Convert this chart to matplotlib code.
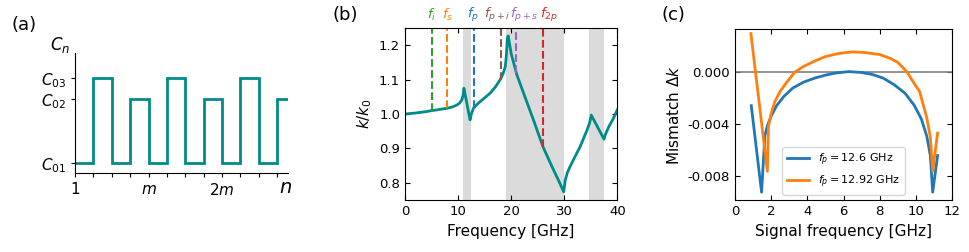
import numpy as np
import matplotlib
matplotlib.use("Agg")
from matplotlib import pyplot as plt

# ---- panel (a): periodic capacitance profile ----
cell_levels = [0.5, 4.75, 0.5, 3.7, 0.5, 4.75, 0.5, 3.7, 0.5, 4.75, 0.5, 3.7]
cell_ticks = [0, 4, 8]
cell_ticklabels = ["1", "$m$", "$2m$"]
cap_ticks = [0.5, 3.7, 4.75]
cap_ticklabels = ["$C_{01}$", "$C_{02}$", "$C_{03}$"]

# ---- panel (b): dispersion k/k0 ----
freq = [0, 2, 4, 5, 6, 8, 9, 9.75, 10.3, 10.7, 10.95, 11.1,
        12.25, 12.5, 12.9, 13.5, 14.15, 15, 16, 17, 17.9, 18.5, 18.9, 19.1, 19.3,
        19.45, 20.0, 21.1, 22.6, 24.2, 26.0, 27.7, 29.0, 29.9,
        30.05, 30.2, 30.6, 31.1, 32.0, 33.0, 34.3, 34.8, 35.1,
        36.3, 37.5, 37.8, 38.4, 39.2, 40]
k_ratio = [1.0, 1.003, 1.007, 1.010, 1.012, 1.017, 1.021, 1.026, 1.032, 1.041, 1.055, 1.075,
           0.983, 1.000, 1.017, 1.027, 1.036, 1.047, 1.060, 1.078, 1.099, 1.118, 1.138, 1.170, 1.222,
           1.227, 1.176, 1.113, 1.050, 0.983, 0.905, 0.847, 0.805, 0.774,
           0.790, 0.808, 0.830, 0.847, 0.875, 0.905, 0.953, 0.975, 0.997,
           0.962, 0.927, 0.942, 0.963, 0.985, 1.012]
gap_bands = [(11.0, 12.35), (19.1, 30.0), (34.75, 37.55)]
mode_freqs = [5, 8, 13, 18, 21, 26]
mode_k = [1.010, 1.017, 1.017, 1.099, 1.118, 0.905]
mode_labels = ["$f_i$", "$f_s$", "$f_p$", "$f_{p+i}$", "$f_{p+s}$", "$f_{2p}$"]
mode_label_x = [5, 8, 12.8, 17.3, 22.5, 27.2]
mode_colors = ["tab:green", "tab:orange", "tab:blue", "tab:brown", "tab:purple", "tab:red"]

# ---- panel (c): phase mismatch ----
fs_a = [0.9, 1.47, 1.65, 1.8, 2.0, 2.3, 2.7, 3.2, 3.8, 4.4, 5.0, 5.6, 6.3, 7.0,
        7.6, 8.2, 8.8, 9.4, 9.9, 10.3, 10.6, 10.8, 10.93, 11.2]
dk_a = [-2.6, -9.2, -4.9, -4.1, -3.4, -2.6, -1.9, -1.25, -0.8, -0.5, -0.27, -0.1, 0.0, -0.07,
        -0.22, -0.5, -1.0, -1.65, -2.55, -3.6, -4.9, -6.4, -9.2, -6.4]
fs_b = [0.88, 1.79, 1.85, 2.0, 2.2, 2.5, 2.9, 3.3, 3.8, 4.4, 5.0, 5.8, 6.5, 7.2,
        8.0, 8.6, 9.0, 9.5, 9.9, 10.2, 10.6, 10.8, 10.93, 11.2]
dk_b = [2.9, -7.6, -4.2, -3.2, -2.3, -1.5, -0.75, -0.05, 0.4, 0.8, 1.15, 1.4, 1.5, 1.45,
        1.3, 1.0, 0.7, 0.0, -0.9, -1.5, -3.5, -5.0, -7.6, -4.7]
pump_labels = ["$f_p = 12.6$ GHz", "$f_p = 12.92$ GHz"]

LABEL_FS = 11
TICK_FS = 9.5
TEAL = "darkcyan"

fig = plt.figure(figsize=(9.69, 2.52), dpi=100)

# (a)
ax_a = fig.add_axes([0.0774, 0.3135, 0.22, 0.476])
edges = np.arange(len(cell_levels) + 1)
ax_a.stairs(cell_levels, edges, color=TEAL, lw=2, baseline=None)
ax_a.set_xlim(0, 11.6)
ax_a.set_ylim(0, 6)
ax_a.spines["top"].set_visible(False)
ax_a.spines["right"].set_visible(False)
ax_a.set_xticks(np.arange(0, 12))
ax_a.set_xticklabels([cell_ticklabels[cell_ticks.index(t)] if t in cell_ticks else ""
                      for t in range(12)], fontsize=LABEL_FS)
ax_a.set_yticks(cap_ticks)
ax_a.set_yticklabels(cap_ticklabels, fontsize=LABEL_FS)
ax_a.tick_params(direction="out", length=3)
ax_a.text(-0.07, 1.07, "$C_n$", transform=ax_a.transAxes, ha="center", va="center",
          fontsize=LABEL_FS + 1)
ax_a.text(0.986, -0.12, "$n$", transform=ax_a.transAxes, ha="center", va="center",
          fontsize=LABEL_FS + 3)

# (b)
ax_b = fig.add_axes([0.418, 0.206, 0.219, 0.683])
for lo, hi in gap_bands:
    ax_b.axvspan(lo, hi, color="0.86", lw=0)
ax_b.plot(freq, k_ratio, color=TEAL, lw=2)
for f, k, lx, lab, c in zip(mode_freqs, mode_k, mode_label_x, mode_labels, mode_colors):
    ax_b.plot([f, f], [k, 1.25], ls="--", color=c, lw=1.5)
    ax_b.text(lx, 1.076, lab, color=c, transform=ax_b.get_xaxis_transform(),
              ha="center", va="center", fontsize=9.5)
ax_b.set_xlim(0, 40)
ax_b.set_ylim(0.75, 1.25)
ax_b.set_xticks([0, 10, 20, 30, 40])
ax_b.set_yticks([0.8, 0.9, 1.0, 1.1, 1.2])
ax_b.tick_params(direction="in", top=True, right=True, labelsize=TICK_FS)
ax_b.set_xlabel("Frequency [GHz]", fontsize=LABEL_FS)
ax_b.set_ylabel("$k/k_0$", fontsize=LABEL_FS)

# (c)
ax_c = fig.add_axes([0.7585, 0.206, 0.224, 0.679])
ax_c.axhline(0, color="gray", lw=1.2)
ax_c.plot(fs_a, np.array(dk_a) * 1e-3, color="tab:blue", lw=2, label=pump_labels[0])
ax_c.plot(fs_b, np.array(dk_b) * 1e-3, color="tab:orange", lw=2, label=pump_labels[1])
ax_c.set_xlim(0, 12)
ax_c.set_ylim(-0.0098, 0.00325)
ax_c.set_xticks(np.arange(0, 13, 2))
ax_c.set_yticks([-0.008, -0.004, 0.0])
ax_c.yaxis.set_major_formatter(matplotlib.ticker.FormatStrFormatter("%.3f"))
ax_c.tick_params(direction="in", top=True, right=True, labelsize=TICK_FS)
ax_c.set_xlabel("Signal frequency [GHz]", fontsize=LABEL_FS)
ax_c.set_ylabel("Mismatch $\\Delta k$", fontsize=LABEL_FS)
ax_c.legend(loc="lower center", fontsize=8)

fig.text(24 / 969, 1 - 25 / 252, "(a)", ha="center", va="center", fontsize=13)
fig.text(345 / 969, 1 - 15 / 252, "(b)", ha="center", va="center", fontsize=13)
fig.text(673 / 969, 1 - 15 / 252, "(c)", ha="center", va="center", fontsize=13)

fig.savefig("out.png", dpi=100)
